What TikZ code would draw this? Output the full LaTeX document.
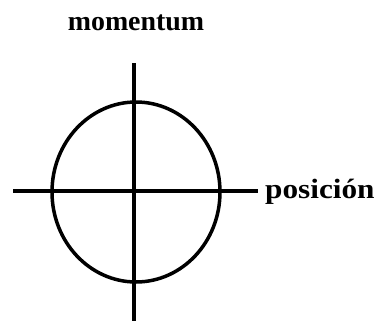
\documentclass[tikz,border=0pt]{standalone}
\usepackage{fontspec}
\setmainfont{Liberation Serif}
\begin{document}
\begin{tikzpicture}[x=1bp,y=-1bp,
  axis/.style={line width=3.5bp},
  lbl/.style={font=\bfseries\fontsize{28}{30}\selectfont, inner sep=0pt}]
\useasboundingbox (0,0) rectangle (382,321);
\coordinate (top) at (134,63);
\coordinate (bot) at (134,321);
\coordinate (lft) at (13,191);
\coordinate (rgt) at (258,191);
\draw[axis] (top) -- (bot);
\draw[axis] (lft) -- (rgt);
\draw[axis] (136,192) ellipse [x radius=84, y radius=90];
\node[lbl, anchor=base] (mom) at (136,30) {momentum};
\node[lbl, anchor=base west] (pos) at (265,198) {\scalebox{1.12}[1]{posición}};
\end{tikzpicture}
\end{document}
